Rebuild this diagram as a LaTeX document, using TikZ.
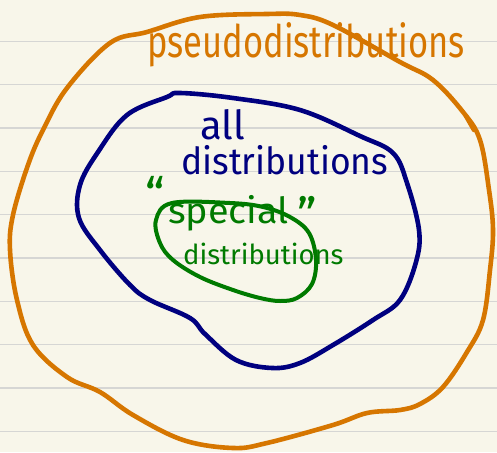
\documentclass[tikz,border=0pt]{standalone}
\usepackage{fontspec}
\setmainfont{Fira Sans}
\usepackage{graphicx}
\definecolor{paper}{HTML}{F8F6EA}
\definecolor{ruled}{HTML}{D6D6D4}
\definecolor{penorange}{HTML}{D67600}
\definecolor{penblue}{HTML}{00007F}
\definecolor{pengreen}{HTML}{007A00}
\tikzset{
  pen/.style={line width=4.6pt, line cap=round, line join=round},
  ruleline/.style={ruled, line width=1.5pt},
  lbl/.style={inner sep=0pt, anchor=base west},
}
\begin{document}
\begin{tikzpicture}[x=1pt,y=-1pt]
\fill[paper] (0,0) rectangle (497,452);
\useasboundingbox (0,0) rectangle (497,452);
\foreach \k in {0,...,9} {
  \draw[ruleline] (0,{41.3+43.33*\k}) -- (497,{41.3+43.33*\k});
}
% outer orange
\draw[pen, penorange] plot[smooth cycle, tension=0.6] coordinates {
 (200,17) (267,14) (300,15) (333,25) (400,62) (433,80) (463,112) (480,140)
 (489,190) (493,230) (490,270) (483,320) (467,352) (443,387) (420,404)
 (400,410) (367,413) (333,425) (267,443) (233,448) (183,440) (133,415)
 (100,392) (67,377) (33,345) (17,300) (10,250) (13,215) (28,165) (43,130)
 (67,88) (110,43) (147,32)};
\draw[pen, penorange] (466,116) -- (474,130);
% blue
\draw[pen, penblue] plot[smooth cycle, tension=0.6] coordinates {
 (180,93) (233,98) (300,110) (360,136) (393,153) (407,183) (419,230)
 (416,262) (400,300) (373,320) (333,345) (300,363) (272,368) (236,360)
 (205,334) (190,318) (150,300) (130,285) (100,250) (79,218) (80,185)
 (98,152) (127,115) (167,97)};
% green
\draw[pen, pengreen, line width=4pt] plot[smooth cycle, tension=0.6] coordinates {
 (172,203) (230,203) (263,207) (290,217) (309,233) (316,260) (312,284)
 (297,298) (280,301) (260,298) (233,290) (200,277) (173,260) (160,243)
 (156,220)};
% texts
\node[lbl, text=penorange, font=\fontsize{34.5}{34.5}\selectfont] (pseudo) at (147,57) {\scalebox{1}[1.3]{pseudodistributions}};
\node[lbl, text=penblue, font=\fontsize{40}{40}\selectfont] (all) at (200,139) {all};
\node[lbl, text=penblue, font=\fontsize{35.5}{35.5}\selectfont] (dist) at (181,174) {\scalebox{1}[1.05]{distributions}};
\node[lbl, text=pengreen, font=\fontsize{48}{48}\selectfont] (lq) at (145,212) {“};
\node[lbl, text=pengreen, font=\fontsize{36}{36}\selectfont] (special) at (168,223) {\scalebox{1.05}[1]{special}};
\node[lbl, text=pengreen, font=\fontsize{48}{48}\selectfont] (rq) at (297,232) {”};
\node[lbl, text=pengreen, font=\fontsize{27.5}{27.5}\selectfont] (sdist) at (183,264) {distributions};
\end{tikzpicture}
\end{document}
